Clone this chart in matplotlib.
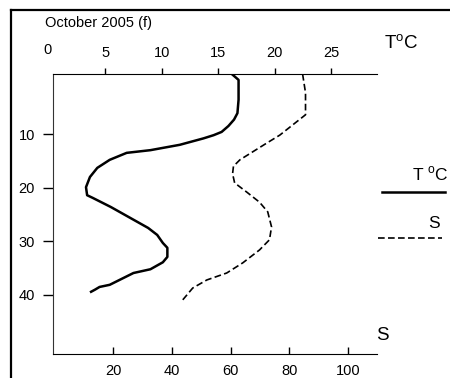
import matplotlib
matplotlib.use("Agg")
import matplotlib.pyplot as plt
from matplotlib.lines import Line2D

plt.rcParams['font.family'] = ['Liberation Sans', 'DejaVu Sans']
plt.rcParams['mathtext.fontset'] = 'custom'
plt.rcParams['mathtext.rm'] = 'Liberation Sans'

# Temperature profile (solid), depth in m
temp_values = [16.2, 16.8, 16.8, 16.7, 16.4, 15.9, 15.3, 14.6, 13.7, 11.6, 9.0, 6.9, 5.4, 4.3,
               3.65, 3.3, 3.4, 3.9, 5.5, 8.8, 9.6, 10.1, 10.5, 10.5, 10.1, 9.0, 7.5,
               5.4, 4.5, 4.1, 3.75]
temp_depth = [-1.2, -0.1, 3.6, 6.1, 7.3, 8.5, 9.6, 10.2, 10.8, 12.0, 13.0, 13.5, 14.8, 16.3,
              18.0, 19.9, 21.4, 21.9, 23.6, 27.5, 28.8, 30.3, 31.2, 32.9, 33.9, 35.2, 35.9,
              38.1, 38.5, 39.0, 39.4]

# Salinity profile (dashed)
sal_values = [84.6, 85.6, 85.6, 81.2, 76.8, 72.3, 67.6, 63.2, 61.0, 60.7, 61.4, 65.5, 69.9,
              72.7, 74.0, 73.3, 69.9, 64.2, 58.7, 51.9, 47.1, 43.7]
sal_depth = [-1.2, 2.3, 6.4, 8.3, 10.2, 11.7, 13.3, 14.8, 16.0, 17.4, 19.1, 20.8, 22.7,
             24.5, 27.3, 29.7, 31.6, 34.0, 35.9, 37.2, 38.7, 40.9]

temp_ticks = [5, 10, 15, 20, 25]
sal_ticks = [20, 40, 60, 80, 100]
depth_ticks = [10, 20, 30, 40]

W, H = 450, 378
fs = 10.5
fig = plt.figure(figsize=(4.5, 3.78), dpi=100)
left, right, top, bottom = 53, 377, 74, 354
ax = fig.add_axes([left / W, 1 - bottom / H, (right - left) / W, (bottom - top) / H])
ax2 = ax.twiny()

dash = (0, (4, 2))

# Salinity on bottom axis
ax.plot(sal_values, sal_depth, color='black', lw=1.2, ls=dash)
ax.set_xlim(-0.6, 110.0)
ax.set_ylim(51.0, -1.2)
ax.set_xticks(sal_ticks)
ax.set_yticks(depth_ticks)
ax.tick_params(axis='x', direction='in', length=5, width=1, pad=7, labelsize=fs)
ax.tick_params(axis='y', direction='out', length=7, width=1, pad=6, labelsize=fs)
for s in ['top', 'right']:
    ax.spines[s].set_visible(False)
ax.spines['left'].set_color('#333333')

# Temperature on top axis
ax2.plot(temp_values, temp_depth, color='black', lw=1.8)
ax2.set_xlim(0.38, 29.05)
ax2.set_xticks(temp_ticks)
ax2.xaxis.tick_top()
ax2.tick_params(axis='x', direction='out', length=4.3, width=1, pad=6, labelsize=fs)
for s in ['bottom', 'left', 'right']:
    ax2.spines[s].set_visible(False)
ax2.text(-0.15, 1 + (top - 57.5) / (bottom - top), '0', transform=ax2.get_xaxis_transform(),
         ha='center', va='bottom', fontsize=fs, clip_on=False)

# Texts
fig.text(45 / W, 1 - 22.5 / H, 'October 2005 (f)', fontsize=10.5, ha='left', va='center')
fig.text(384 / W, 1 - 44 / H, r'T$^{\mathregular{o}}$C', fontsize=13.5, ha='left', va='center')
fig.text(376 / W, 1 - 335 / H, 'S', fontsize=13.5, ha='left', va='center')
fig.text(412 / W, 1 - 174 / H, r'T $^{\mathregular{o}}$C', fontsize=12.5, ha='left', va='center')
fig.text(428 / W, 1 - 223 / H, 'S', fontsize=12.5, ha='left', va='center')

# Legend lines
fig.add_artist(Line2D([382 / W, 445 / W], [1 - 192 / H, 1 - 192 / H], color='black', lw=1.8))
fig.add_artist(Line2D([378 / W, 442 / W], [1 - 238 / H, 1 - 238 / H], color='black', lw=1.2,
                      ls=dash))

# Frame lines (left and top)
fig.add_artist(Line2D([11 / W, 11 / W], [0, 1 - 10 / H], color='black', lw=1.6))
fig.add_artist(Line2D([11 / W, 1], [1 - 10 / H, 1 - 10 / H], color='black', lw=1.6))

fig.savefig('out.png', dpi=100)
